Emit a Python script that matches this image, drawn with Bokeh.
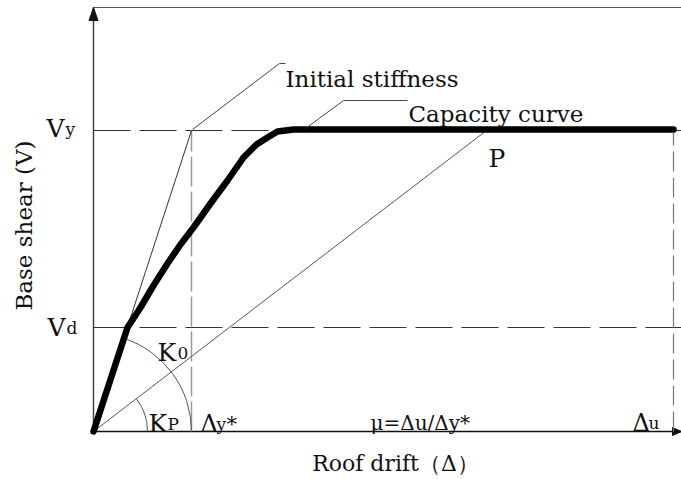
import math
from bokeh.plotting import figure
from bokeh.models import Range1d
from bokeh.core.properties import value
from bokeh.embed import file_html
from bokeh.resources import INLINE

# ---- data (drift, shear) in chart units ----
curve_drift = [0, 34, 47, 60, 74, 87, 100, 117, 134, 150, 163, 174, 184, 200, 214, 580]
curve_shear = [0, 104, 124, 146, 168, 187, 204, 228, 251, 274, 287, 294, 300, 302, 302, 302]
Vy = 301          # yield base shear
Vd = 104          # design base shear
dy_star = 98      # yield drift
du = 580          # ultimate drift
P_drift, P_shear = 393, 301   # point P on the capacity curve
drift_max = 588
shear_max = 424

FONT = value("DejaVu Serif")

p = figure(width=681, height=479, x_range=Range1d(-93, 588), y_range=Range1d(-48, 431),
           min_border=0, output_backend="svg", toolbar_location=None,
           x_axis_type=None, y_axis_type=None)
p.grid.visible = False
p.outline_line_color = None
p.background_fill_color = "white"

# axes with arrows
p.line([0, drift_max], [0, 0], line_color="#111", line_width=1.5)
p.line([0, 0], [0, shear_max], line_color="#444", line_width=1.5)
p.line([0, drift_max], [shear_max, shear_max], line_color="#555", line_width=1.2)
p.patch([0, -4.5, 4.5], [shear_max, shear_max - 13, shear_max - 13], color="#111")
p.patch([drift_max, drift_max - 9, drift_max - 9], [0, 4, -4], color="#111")

# horizontal dashed levels
for lvl in (Vy, Vd):
    p.line([0, drift_max], [lvl, lvl], line_color="#333", line_width=1.2, line_dash="37 9")

# vertical dashed lines
p.line([dy_star, dy_star], [0, Vy], line_color="#999", line_width=1.5, line_dash="30 5")
p.line([du, du], [0, Vy], line_color="#777", line_width=1.2, line_dash="20 6")

# initial stiffness and secant to P
p.line([0, dy_star], [0, Vy], line_color="#333", line_width=1)
p.line([0, P_drift], [0, P_shear], line_color="#555", line_width=1)

# angle arcs
p.arc(x=0, y=0, radius=98, start_angle=0, end_angle=math.atan2(Vy, dy_star),
      line_color="#555", line_width=1)
p.arc(x=0, y=0, radius=54, start_angle=0, end_angle=math.atan2(P_shear, P_drift),
      line_color="#555", line_width=1)

# capacity curve
p.line(curve_drift, curve_shear, line_color="black", line_width=6.5,
       line_join="round", line_cap="round")

# leaders
p.line([dy_star + 1, 186, 192], [Vy + 1, 368, 368], line_color="#444", line_width=1)
p.line([212, 250, 314], [303, 331, 331], line_color="#444", line_width=1)

def txt(x, y, s, size="23px", **kw):
    p.text(x=[x], y=[y], text=[s], text_font=FONT, text_font_size=size,
           text_baseline="alphabetic", text_color="#111", **kw)

txt(192, 353, "Initial stiffness")
txt(315, 318, "Capacity curve")
txt(395, 273, "P", size="25px")

# y labels
txt(-47, 303, "V", size="25px"); txt(-28, 303, "y", size="17px")
txt(-46, 104, "V", size="25px"); txt(-27, 104, "d", size="17px")

# angle labels
txt(64, 79, "K", size="25px"); txt(84, 79, "0", size="17px")
txt(55, 8, "K", size="25px"); txt(74, 8, "P", size="17px")
txt(107, 8, "Δ", size="24px"); txt(123, 8, "y", size="17px"); txt(133, 8, "*", size="21px")
txt(277, 9, "μ=Δu/Δy*", size="20px")
txt(539, 9, "Δ", size="24px"); txt(555, 9, "u", size="17px")

# axis titles
p.text(x=[-70], y=[206], text=["Base shear (V)"], text_font=FONT, text_font_size="23px",
       text_align="center", text_baseline="middle", angle=math.pi / 2, text_color="#111")
p.text(x=[302], y=[-32], text=["Roof drift（Δ）"], text_font=FONT, text_font_size="22px",
       text_align="center", text_baseline="middle", text_color="#111")

open("out.html", "w").write(file_html(p, INLINE))
